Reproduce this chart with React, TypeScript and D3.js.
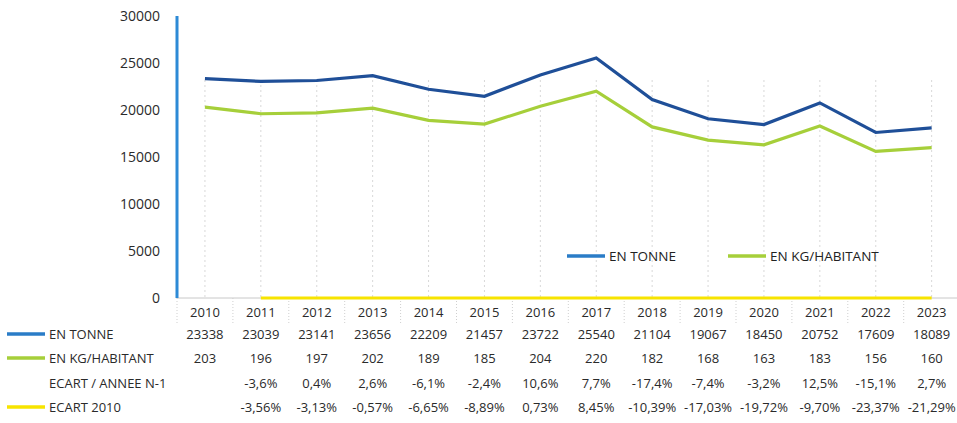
import { useRef, useEffect } from 'react';
import * as d3 from 'd3';

const years = ['2010', '2011', '2012', '2013', '2014', '2015', '2016', '2017', '2018', '2019', '2020', '2021', '2022', '2023'];
const enTonne = [23338, 23039, 23141, 23656, 22209, 21457, 23722, 25540, 21104, 19067, 18450, 20752, 17609, 18089];
const enKgHab = [203, 196, 197, 202, 189, 185, 204, 220, 182, 168, 163, 183, 156, 160];
const ecartN1 = ['', '-3,6%', '0,4%', '2,6%', '-6,1%', '-2,4%', '10,6%', '7,7%', '-17,4%', '-7,4%', '-3,2%', '12,5%', '-15,1%', '2,7%'];
const ecart2010 = ['', '-3,56%', '-3,13%', '-0,57%', '-6,65%', '-8,89%', '0,73%', '8,45%', '-10,39%', '-17,03%', '-19,72%', '-9,70%', '-23,37%', '-21,29%'];
const yTicks = [0, 5000, 10000, 15000, 20000, 25000, 30000];

const FONT = '"Open Sans", "Noto Sans", sans-serif';

const App = () => {
  const svgRef = useRef<SVGSVGElement>(null);

  useEffect(() => {
    const svg = d3.select(svgRef.current);
    svg.selectAll('*').remove();

    const left = 177, top = 16, bottom = 298;
    const x = d3.scaleBand().domain(years).range([left, left + 14 * 55.9]);
    const cx = (d: string) => (x(d) as number) + x.bandwidth() / 2;
    const y = d3.scaleLinear().domain([0, 30000]).range([bottom, top]);

    // vertical dotted grid at category centers
    svg.append('g').selectAll('line').data(years).enter().append('line')
      .attr('x1', cx).attr('x2', cx).attr('y1', 80).attr('y2', bottom)
      .attr('stroke', '#d8d8d8').attr('stroke-dasharray', '2,3');

    // y tick labels
    svg.append('g').selectAll('text').data(yTicks).enter().append('text')
      .attr('x', 160).attr('y', d => y(d) + 5).attr('text-anchor', 'end')
      .attr('font-family', FONT).attr('font-size', 14).attr('fill', '#2a2a2a')
      .text(d => d);

    // x axis baseline
    svg.append('line').attr('x1', left).attr('x2', 957).attr('y1', bottom).attr('y2', bottom)
      .attr('stroke', '#c8c8c8');

    // header cell borders
    const edges = years.map(d => x(d) as number).concat([(x('2023') as number) + x.bandwidth()]);
    svg.append('g').selectAll('line').data(edges).enter().append('line')
      .attr('x1', d => d).attr('x2', d => d).attr('y1', bottom).attr('y2', 324)
      .attr('stroke', '#cfcfcf').attr('stroke-dasharray', '1,2');

    // series lines
    const line = d3.line<number>().x((_, i) => cx(years[i])).y(d => y(d));
    svg.append('path').datum(enKgHab.map(v => v * 100)).attr('d', line)
      .attr('fill', 'none').attr('stroke', '#a6cf3a').attr('stroke-width', 3.2);
    svg.append('path').datum(enTonne).attr('d', line)
      .attr('fill', 'none').attr('stroke', '#1f4f98').attr('stroke-width', 3.2);

    // yellow ECART 2010 line (percent values, ~0 on this scale)
    const ecartVals = ecart2010.map(s => s === '' ? null : parseFloat(s.replace(',', '.')) / 100);
    const yLine = d3.line<number | null>()
      .defined(d => d !== null)
      .x((_, i) => cx(years[i])).y(d => y(d as number));
    svg.append('path').datum(ecartVals).attr('d', yLine)
      .attr('fill', 'none').attr('stroke', '#f7e400').attr('stroke-width', 3.2);

    // blue y axis bar
    svg.append('line').attr('x1', left).attr('x2', left).attr('y1', top).attr('y2', bottom)
      .attr('stroke', '#2d8ad6').attr('stroke-width', 3);

    // legend
    const legend = [
      { label: 'EN TONNE', color: '#2a7cc7', x: 567 },
      { label: 'EN KG/HABITANT', color: '#a6cf3a', x: 728 },
    ];
    legend.forEach(l => {
      svg.append('line').attr('x1', l.x).attr('x2', l.x + 38).attr('y1', 256).attr('y2', 256)
        .attr('stroke', l.color).attr('stroke-width', 3.5);
      svg.append('text').attr('x', l.x + 42).attr('y', 261)
        .attr('font-family', FONT).attr('font-size', 13.5).attr('fill', '#222').text(l.label);
    });

    // data table
    const rows = [
      { label: 'EN TONNE', color: '#2a7cc7', vals: enTonne.map(String), y: 339 },
      { label: 'EN KG/HABITANT', color: '#a6cf3a', vals: enKgHab.map(String), y: 363 },
      { label: 'ECART / ANNEE N-1', color: null, vals: ecartN1, y: 388 },
      { label: 'ECART 2010', color: '#f7e400', vals: ecart2010, y: 412 },
    ];
    svg.append('g').selectAll('text').data(years).enter().append('text')
      .attr('x', cx).attr('y', 317).attr('text-anchor', 'middle')
      .attr('font-family', FONT).attr('font-size', 13).attr('fill', '#2a2a2a').text(d => d);
    rows.forEach(r => {
      if (r.color) {
        svg.append('line').attr('x1', 7).attr('x2', 45).attr('y1', r.y - 5).attr('y2', r.y - 5)
          .attr('stroke', r.color).attr('stroke-width', 3.5);
      }
      svg.append('text').attr('x', 49).attr('y', r.y)
        .attr('font-family', FONT).attr('font-size', 13).attr('fill', '#2a2a2a').text(r.label);
      svg.append('g').selectAll('text').data(r.vals).enter().append('text')
        .attr('x', (_, i) => cx(years[i])).attr('y', r.y).attr('text-anchor', 'middle')
        .attr('font-family', FONT).attr('font-size', 13).attr('fill', '#2a2a2a').text(d => d);
    });
  }, []);

  return (
    <svg ref={svgRef} width={957} height={423}
      style={{ position: 'absolute', left: 0, top: 0, background: '#fff' }} />
  );
};

export default App;
